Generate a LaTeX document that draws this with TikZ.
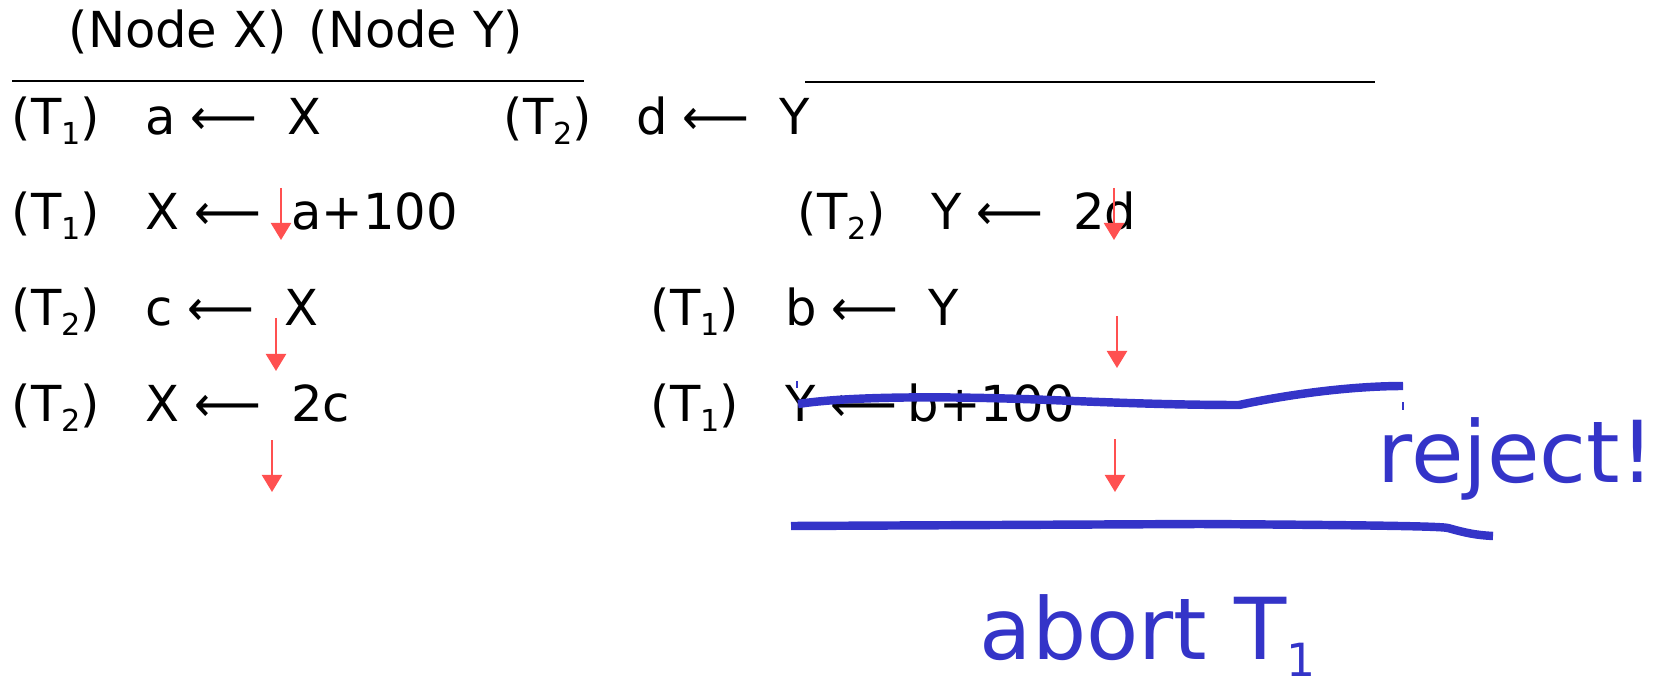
\documentclass[tikz,border=0pt]{standalone}
\usepackage{fontspec}
\setmainfont{DejaVu Sans}
\usepackage{xcolor}
\usepackage{tikz}
\usetikzlibrary{arrows.meta}
\definecolor{flowred}{RGB}{255,80,80}
\definecolor{markblue}{RGB}{52,52,200}
\newcommand{\tsub}[2][8.6]{\raisebox{-0.2em}{\fontsize{#1}{#1}\selectfont #2}}
\newcommand{\asg}[3][0.61em]{#2\hspace{0.29em}\scalebox{0.94}[1]{⟵}\hspace{#1}#3}
\tikzset{
  txt/.style={anchor=base west, inner sep=0pt, font=\fontsize{14.1}{17}\selectfont},
  note/.style={anchor=base west, inner sep=0pt, text=markblue, font=\fontsize{24.3}{28}\selectfont},
  rule/.style={line width=0.6pt},
  flow/.style={draw=flowred, line width=0.65pt, -{Triangle[width=2mm, length=1.7mm]}},
  strike/.style={draw=markblue, line width=2.4pt, line join=round},
  tick/.style={draw=markblue, line width=0.3pt}
}

\begin{document}
\begin{tikzpicture}[x=0.01cm, y=-0.01cm]
    \useasboundingbox (0,0) rectangle (1654,682);
    % header
    \node[txt] (hx) at (68,48) {(Node X)};
    \node[txt] (hy) at (308,48) {(Node Y)};
    \draw[rule] (12,81) -- (584,81);
    \draw[rule] (805,82) -- (1375,82);
    % node X
    \node[txt] (l1) at (11,135) {(T\tsub{1})};
    \node[txt] (s1) at (145,135) {\asg{a}{X}};
    \node[txt] (l2) at (11,230) {(T\tsub{1})};
    \node[txt] (s2) at (145,230) {\asg{X}{a+100}};
    \node[txt] (l3) at (11,326) {(T\tsub{2})};
    \node[txt] (s3) at (145,326) {\asg{c}{X}};
    \node[txt] (l4) at (11,422) {(T\tsub{2})};
    \node[txt] (s4) at (145,422) {\asg{X}{2c}};
    % node Y
    \node[txt] (m1) at (503,135) {(T\tsub{2})};
    \node[txt] (t1) at (636,135) {\asg{d}{Y}};
    \node[txt] (m2) at (797,230) {(T\tsub{2})};
    \node[txt] (t2) at (931,230) {\asg{Y}{2d}};
    \node[txt] (m3) at (650,326) {(T\tsub{1})};
    \node[txt] (t3) at (785,326) {\asg{b}{Y}};
    \node[txt] (m4) at (650,422) {(T\tsub{1})};
    \node[txt] (t4) at (785,422) {\asg[0.21em]{Y}{b+100}};
    % red flow arrows
    \foreach \n/\x/\ya/\yb in {a/281/188/240, b/276/318/371, c/272/440/492,
                              d/1114/188/240, e/1117/316/368, f/1115/439/492} {
      \coordinate (f\n0) at (\x,\ya);
      \coordinate (f\n1) at (\x,\yb);
      \draw[flow] (f\n0) -- (f\n1);
    }
    % blue marks
    \draw[strike] (798,404) .. controls (850,396) and (950,396) .. (1050,400)
      .. controls (1120,403) and (1180,405) .. (1239,405)
      .. controls (1300,392) and (1360,386) .. (1403,386);
    \draw[tick] (797,381) -- (797,388);
    \draw[tick] (1403,402) -- (1403,410);
    \draw[strike] (791,526) -- (1200,524) .. controls (1350,525) and (1440,526) .. (1448,528)
      .. controls (1466,533) and (1475,535) .. (1493,536);
    \node[note] (rej) at (1377,482) {reject!};
    \node[note] (abt) at (979,659) {abort T\tsub[13]{1}};
  \end{tikzpicture}
\end{document}
